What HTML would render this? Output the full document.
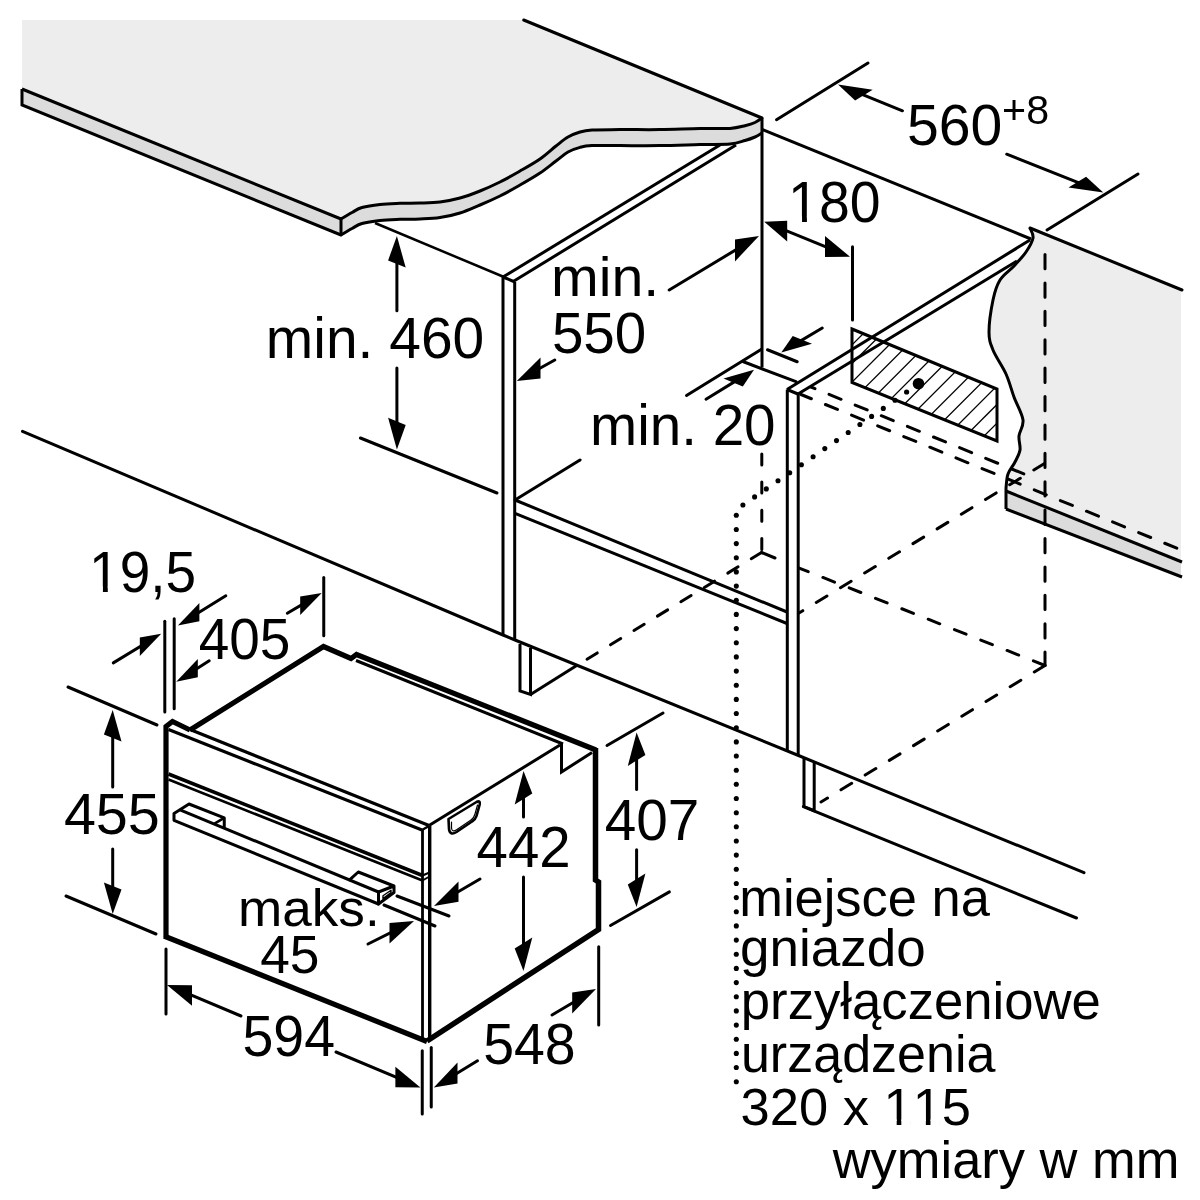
<!DOCTYPE html>
<html><head><meta charset="utf-8"><title>Wymiary</title>
<style>
html,body{margin:0;padding:0;background:#fff;}
svg{display:block;}
text{font-family:"Liberation Sans",sans-serif;fill:#000;stroke:none;font-kerning:none;}
</style></head><body>
<svg width="1200" height="1200" viewBox="0 0 1200 1200" stroke="#000" fill="none" stroke-linecap="butt" stroke-linejoin="miter">
<rect x="0" y="0" width="1200" height="1200" fill="#fff" stroke="none"/>
<path d="M22,20 L523,20 L762,118 L762,118 C760.8,118.8 757.8,121.2 755,122.5 C752.2,123.8 749.2,124.7 745,125.7 C740.8,126.7 737.5,127.9 730,128.4 C722.5,128.9 711.7,128.4 700,128.6 C688.3,128.8 673.3,129.4 660,129.6 C646.7,129.8 631.3,129.5 620,129.6 C608.7,129.7 598.7,129.6 592,130 C585.3,130.4 584.0,130.8 580,132 C576.0,133.2 572.0,134.7 568,137 C564.0,139.3 560.7,142.3 556,146 C551.3,149.7 546.0,154.8 540,159 C534.0,163.2 526.7,167.2 520,171 C513.3,174.8 506.7,178.7 500,182 C493.3,185.3 486.7,188.3 480,191 C473.3,193.7 466.7,196.2 460,198 C453.3,199.8 446.7,201.2 440,202 C433.3,202.8 426.7,202.8 420,203 C413.3,203.2 406.7,203.1 400,203.3 C393.3,203.6 386.3,203.8 380,204.5 C373.7,205.2 366.7,206.2 362,207.5 C357.3,208.8 355.5,210.6 352,212.5 C348.5,214.4 342.8,217.9 341,219 L22,89 Z" fill="#ededed" stroke-width="0" stroke="none"/>
<path d="M22,89 L341,219 L341,219 C342.8,217.9 348.5,214.4 352,212.5 C355.5,210.6 357.3,208.8 362,207.5 C366.7,206.2 373.7,205.2 380,204.5 C386.3,203.8 393.3,203.6 400,203.3 C406.7,203.1 413.3,203.2 420,203 C426.7,202.8 433.3,202.8 440,202 C446.7,201.2 453.3,199.8 460,198 C466.7,196.2 473.3,193.7 480,191 C486.7,188.3 493.3,185.3 500,182 C506.7,178.7 513.3,174.8 520,171 C526.7,167.2 534.0,163.2 540,159 C546.0,154.8 551.3,149.7 556,146 C560.7,142.3 564.0,139.3 568,137 C572.0,134.7 576.0,133.2 580,132 C584.0,130.8 585.3,130.4 592,130 C598.7,129.6 608.7,129.7 620,129.6 C631.3,129.5 646.7,129.8 660,129.6 C673.3,129.4 688.3,128.8 700,128.6 C711.7,128.4 722.5,128.9 730,128.4 C737.5,127.9 740.8,126.7 745,125.7 C749.2,124.7 752.2,123.8 755,122.5 C757.8,121.2 760.8,118.8 762,118 L762,133 L762,133 C760.8,133.7 757.8,135.8 755,137 C752.2,138.2 749.2,139.3 745,140.5 C740.8,141.7 737.5,143.3 730,144 C722.5,144.7 711.7,144.2 700,144.5 C688.3,144.8 673.3,145.4 660,145.6 C646.7,145.8 631.3,145.6 620,145.6 C608.7,145.6 598.7,145.3 592,145.6 C585.3,145.9 584.0,146.3 580,147.4 C576.0,148.5 572.0,149.7 568,152 C564.0,154.3 560.7,157.5 556,161 C551.3,164.5 546.0,169.0 540,173 C534.0,177.0 526.7,181.2 520,185 C513.3,188.8 506.7,192.7 500,196 C493.3,199.3 486.7,202.2 480,205 C473.3,207.8 466.7,210.9 460,213 C453.3,215.1 446.7,216.6 440,217.6 C433.3,218.6 426.7,218.7 420,219 C413.3,219.3 406.7,219.1 400,219.3 C393.3,219.6 386.3,219.8 380,220.5 C373.7,221.2 366.7,222.2 362,223.5 C357.3,224.8 355.5,226.6 352,228.5 C348.5,230.4 342.8,233.9 341,235 L22,105 Z" fill="#dcdcdc" stroke-width="0" stroke="none"/>
<path d="M22,89 L341,219 L341,219 C342.8,217.9 348.5,214.4 352,212.5 C355.5,210.6 357.3,208.8 362,207.5 C366.7,206.2 373.7,205.2 380,204.5 C386.3,203.8 393.3,203.6 400,203.3 C406.7,203.1 413.3,203.2 420,203 C426.7,202.8 433.3,202.8 440,202 C446.7,201.2 453.3,199.8 460,198 C466.7,196.2 473.3,193.7 480,191 C486.7,188.3 493.3,185.3 500,182 C506.7,178.7 513.3,174.8 520,171 C526.7,167.2 534.0,163.2 540,159 C546.0,154.8 551.3,149.7 556,146 C560.7,142.3 564.0,139.3 568,137 C572.0,134.7 576.0,133.2 580,132 C584.0,130.8 585.3,130.4 592,130 C598.7,129.6 608.7,129.7 620,129.6 C631.3,129.5 646.7,129.8 660,129.6 C673.3,129.4 688.3,128.8 700,128.6 C711.7,128.4 722.5,128.9 730,128.4 C737.5,127.9 740.8,126.7 745,125.7 C749.2,124.7 752.2,123.8 755,122.5 C757.8,121.2 760.8,118.8 762,118" fill="none" stroke-width="3.0" />
<path d="M22,89 L22,105 L341,235 L341,235 C342.8,233.9 348.5,230.4 352,228.5 C355.5,226.6 357.3,224.8 362,223.5 C366.7,222.2 373.7,221.2 380,220.5 C386.3,219.8 393.3,219.6 400,219.3 C406.7,219.1 413.3,219.3 420,219 C426.7,218.7 433.3,218.6 440,217.6 C446.7,216.6 453.3,215.1 460,213 C466.7,210.9 473.3,207.8 480,205 C486.7,202.2 493.3,199.3 500,196 C506.7,192.7 513.3,188.8 520,185 C526.7,181.2 534.0,177.0 540,173 C546.0,169.0 551.3,164.5 556,161 C560.7,157.5 564.0,154.3 568,152 C572.0,149.7 576.0,148.5 580,147.4 C584.0,146.3 585.3,145.9 592,145.6 C598.7,145.3 608.7,145.6 620,145.6 C631.3,145.6 646.7,145.8 660,145.6 C673.3,145.4 688.3,144.8 700,144.5 C711.7,144.2 722.5,144.7 730,144 C737.5,143.3 740.8,141.7 745,140.5 C749.2,139.3 752.2,138.2 755,137 C757.8,135.8 760.8,133.7 762,133" fill="none" stroke-width="3.0" />
<line x1="341" y1="219" x2="341" y2="235" stroke-width="3.0" />
<line x1="523.7" y1="20" x2="762" y2="118" stroke-width="3.0" stroke-linecap="round"/>
<line x1="375" y1="223" x2="504" y2="277" stroke-width="2.5" />
<line x1="503" y1="277" x2="503" y2="636" stroke-width="3.0" />
<line x1="514.7" y1="282" x2="514.7" y2="640" stroke-width="3.0" />
<line x1="503" y1="277" x2="515" y2="282" stroke-width="3.0" />
<line x1="503" y1="277" x2="720" y2="145" stroke-width="3.0" />
<line x1="514" y1="281" x2="736" y2="145" stroke-width="3.0" />
<line x1="762" y1="118" x2="762" y2="367.5" stroke-width="3.0" />
<line x1="762" y1="129.5" x2="1031" y2="239" stroke-width="3.0" />
<line x1="787.3" y1="389.5" x2="787.3" y2="752" stroke-width="3.0" />
<line x1="798.2" y1="394" x2="798.2" y2="756" stroke-width="3.0" />
<line x1="787" y1="389.5" x2="798" y2="394" stroke-width="3.0" />
<line x1="787" y1="389.5" x2="1030" y2="240" stroke-width="3.0" />
<line x1="798" y1="394" x2="1017" y2="261" stroke-width="3.0" />
<line x1="515" y1="500" x2="787" y2="612" stroke-width="3.0" />
<line x1="515" y1="513.3" x2="787" y2="623.5" stroke-width="3.0" />
<line x1="515" y1="500" x2="580" y2="460" stroke-width="3.0" stroke-linecap="round"/>
<line x1="686.5" y1="395.5" x2="761.5" y2="349.3" stroke-width="3.0" stroke-linecap="round"/>
<line x1="743.5" y1="361.75" x2="796" y2="381.7" stroke-width="3.0" stroke-linecap="round"/>
<line x1="767.5" y1="349.75" x2="797.2" y2="361.75" stroke-width="3.0" stroke-linecap="round"/>
<polygon points="781.3,352.4 792.7,335.9 812.0,343.8" fill="#000" stroke="none"/>
<line x1="822.25" y1="328" x2="791.8" y2="346.1" stroke-width="3.0" stroke-linecap="round"/>
<polygon points="754.0,369.7 723.5,378.6 742.8,386.5" fill="#000" stroke="none"/>
<line x1="706" y1="399.25" x2="743.6" y2="376.1" stroke-width="3.0" stroke-linecap="round"/>
<polyline points="22.5,431.3 503,635 515,640 798.5,755.5 1084,872.6" fill="none" stroke-width="3.0" stroke-linecap="round" stroke-linejoin="round"/>
<line x1="803.4" y1="806.6" x2="1076.5" y2="918" stroke-width="3.0" stroke-linecap="round"/>
<polyline points="520,644 520,691 530.5,694.5 530.5,648" fill="none" stroke-width="3.0" />
<line x1="530.5" y1="694.5" x2="577.5" y2="665" stroke-width="3.0" />
<polyline points="804,758 804,806.6 814.2,810.75 814.2,763" fill="none" stroke-width="3.0" />
<path d="M1030,228 L1181,290 L1181,562 L1006,491 L1006,488 C1006.3,485.7 1006.5,478.3 1008,474 C1009.5,469.7 1013.0,466.0 1015,462 C1017.0,458.0 1019.3,454.3 1020,450 C1020.7,445.7 1018.5,441.0 1019,436 C1019.5,431.0 1023.8,426.5 1023,420 C1022.2,413.5 1016.8,404.7 1014,397 C1011.2,389.3 1009.5,381.8 1006,374 C1002.5,366.2 995.8,357.0 993,350 C990.2,343.0 989.0,340.3 989,332 C989.0,323.7 991.2,308.7 993,300 C994.8,291.3 996.5,285.7 1000,280 C1003.5,274.3 1009.7,270.7 1014,266 C1018.3,261.3 1022.8,256.7 1026,252 C1029.2,247.3 1032.3,242.0 1033,238 C1033.7,234.0 1030.5,229.7 1030,228 Z" fill="#ededed" stroke-width="0" stroke="none"/>
<polygon points="1006,491 1181,562 1181,577 1006,509" fill="#dcdcdc" stroke-width="0" stroke="none"/>
<line x1="1030" y1="228" x2="1182" y2="290" stroke-width="3.0" stroke-linecap="round"/>
<path d="M1030,228 C1030.5,229.7 1033.7,234.0 1033,238 C1032.3,242.0 1029.2,247.3 1026,252 C1022.8,256.7 1018.3,261.3 1014,266 C1009.7,270.7 1003.5,274.3 1000,280 C996.5,285.7 994.8,291.3 993,300 C991.2,308.7 989.0,323.7 989,332 C989.0,340.3 990.2,343.0 993,350 C995.8,357.0 1002.5,366.2 1006,374 C1009.5,381.8 1011.2,389.3 1014,397 C1016.8,404.7 1022.2,413.5 1023,420 C1023.8,426.5 1019.5,431.0 1019,436 C1018.5,441.0 1020.7,445.7 1020,450 C1019.3,454.3 1017.0,458.0 1015,462 C1013.0,466.0 1009.5,469.7 1008,474 C1006.5,478.3 1006.3,485.7 1006,488 L1006,509" fill="none" stroke-width="3.0" stroke-linejoin="round"/>
<line x1="1006" y1="491" x2="1182" y2="562" stroke-width="3.0" />
<line x1="1006" y1="509" x2="1182" y2="577" stroke-width="3.0" />
<defs><clipPath id="hc"><polygon points="852,329 997,389 997,441 852,382.5"/></clipPath></defs>
<g clip-path="url(#hc)"><line x1="559.5" y1="470" x2="729.5" y2="300" stroke-width="1.3"/><line x1="578.1" y1="470" x2="748.1" y2="300" stroke-width="1.3"/><line x1="596.7" y1="470" x2="766.7" y2="300" stroke-width="1.3"/><line x1="615.3" y1="470" x2="785.3" y2="300" stroke-width="1.3"/><line x1="633.9" y1="470" x2="803.9" y2="300" stroke-width="1.3"/><line x1="652.5" y1="470" x2="822.5" y2="300" stroke-width="1.3"/><line x1="671.1" y1="470" x2="841.1" y2="300" stroke-width="1.3"/><line x1="689.7" y1="470" x2="859.7" y2="300" stroke-width="1.3"/><line x1="708.3" y1="470" x2="878.3" y2="300" stroke-width="1.3"/><line x1="726.9" y1="470" x2="896.9" y2="300" stroke-width="1.3"/><line x1="745.5" y1="470" x2="915.5" y2="300" stroke-width="1.3"/><line x1="764.1" y1="470" x2="934.1" y2="300" stroke-width="1.3"/><line x1="782.7" y1="470" x2="952.7" y2="300" stroke-width="1.3"/><line x1="801.3" y1="470" x2="971.3" y2="300" stroke-width="1.3"/><line x1="819.9" y1="470" x2="989.9" y2="300" stroke-width="1.3"/><line x1="838.5" y1="470" x2="1008.5" y2="300" stroke-width="1.3"/><line x1="857.1" y1="470" x2="1027.1" y2="300" stroke-width="1.3"/><line x1="875.7" y1="470" x2="1045.7" y2="300" stroke-width="1.3"/><line x1="894.3" y1="470" x2="1064.3" y2="300" stroke-width="1.3"/><line x1="912.9" y1="470" x2="1082.9" y2="300" stroke-width="1.3"/><line x1="931.5" y1="470" x2="1101.5" y2="300" stroke-width="1.3"/><line x1="950.1" y1="470" x2="1120.1" y2="300" stroke-width="1.3"/><line x1="968.7" y1="470" x2="1138.7" y2="300" stroke-width="1.3"/><line x1="987.3" y1="470" x2="1157.3" y2="300" stroke-width="1.3"/><line x1="1005.9" y1="470" x2="1175.9" y2="300" stroke-width="1.3"/><line x1="1024.5" y1="470" x2="1194.5" y2="300" stroke-width="1.3"/></g>
<polygon points="852,329 997,389 997,441 852,382.5" fill="none" stroke-width="3.0" />
<circle cx="918.5" cy="383.7" r="5.8" fill="#000" stroke="none"/>
<circle cx="906.6" cy="392" r="2.6" fill="#000" stroke="none"/>
<line x1="811" y1="387" x2="1027" y2="475.2" stroke-width="3.0" stroke-dasharray="13 15.2" stroke-dashoffset="8.7" stroke-linecap="round"/>
<line x1="801" y1="394.5" x2="1182" y2="550.3" stroke-width="3.0" stroke-dasharray="13 15.2" stroke-dashoffset="1.8" stroke-linecap="round"/>
<line x1="1045" y1="254.5" x2="1045" y2="665.5" stroke-width="3.0" stroke-dasharray="14.3 14.1" stroke-dashoffset="0" stroke-linecap="round"/>
<line x1="761.8" y1="453.9" x2="761.8" y2="552.5" stroke-width="3.0" stroke-dasharray="11 17.2" stroke-dashoffset="0" stroke-linecap="round"/>
<line x1="761.5" y1="552.5" x2="775" y2="558" stroke-width="3.0" stroke-linecap="round"/>
<line x1="1045" y1="665.5" x2="798.5" y2="567.8" stroke-width="3.0" stroke-dasharray="12.5 15.8" stroke-dashoffset="0" stroke-linecap="round"/>
<line x1="1044.5" y1="463.5" x2="798.5" y2="613.3" stroke-width="3.0" stroke-dasharray="12.5 15.8" stroke-dashoffset="0" stroke-linecap="round"/>
<line x1="1045" y1="665.5" x2="821" y2="802" stroke-width="3.0" stroke-dasharray="12.5 15.8" stroke-dashoffset="0" stroke-linecap="round"/>
<line x1="761.5" y1="552.5" x2="577.5" y2="665" stroke-width="3.0" stroke-dasharray="12 15.5" stroke-dashoffset="0" stroke-linecap="round"/>
<circle cx="895.0" cy="400.3" r="2.55" fill="#000" stroke="none"/>
<circle cx="883.3" cy="408.4" r="2.55" fill="#000" stroke="none"/>
<circle cx="871.6" cy="416.4" r="2.55" fill="#000" stroke="none"/>
<circle cx="859.9" cy="424.5" r="2.55" fill="#000" stroke="none"/>
<circle cx="848.2" cy="432.5" r="2.55" fill="#000" stroke="none"/>
<circle cx="836.5" cy="440.6" r="2.55" fill="#000" stroke="none"/>
<circle cx="824.8" cy="448.6" r="2.55" fill="#000" stroke="none"/>
<circle cx="813.1" cy="456.7" r="2.55" fill="#000" stroke="none"/>
<circle cx="801.4" cy="464.8" r="2.55" fill="#000" stroke="none"/>
<circle cx="789.7" cy="472.8" r="2.55" fill="#000" stroke="none"/>
<circle cx="778.0" cy="480.8" r="2.55" fill="#000" stroke="none"/>
<circle cx="766.3" cy="488.9" r="2.55" fill="#000" stroke="none"/>
<circle cx="754.6" cy="496.9" r="2.55" fill="#000" stroke="none"/>
<circle cx="742.9" cy="505.0" r="2.55" fill="#000" stroke="none"/>
<circle cx="736.3" cy="515.3" r="2.55" fill="#000" stroke="none"/>
<circle cx="736.3" cy="529.5" r="2.55" fill="#000" stroke="none"/>
<circle cx="736.3" cy="543.6" r="2.55" fill="#000" stroke="none"/>
<circle cx="736.3" cy="557.8" r="2.55" fill="#000" stroke="none"/>
<circle cx="736.3" cy="571.9" r="2.55" fill="#000" stroke="none"/>
<circle cx="736.3" cy="586.1" r="2.55" fill="#000" stroke="none"/>
<circle cx="736.3" cy="600.3" r="2.55" fill="#000" stroke="none"/>
<circle cx="736.3" cy="614.4" r="2.55" fill="#000" stroke="none"/>
<circle cx="736.3" cy="628.6" r="2.55" fill="#000" stroke="none"/>
<circle cx="736.3" cy="642.7" r="2.55" fill="#000" stroke="none"/>
<circle cx="736.3" cy="656.9" r="2.55" fill="#000" stroke="none"/>
<circle cx="736.3" cy="671.1" r="2.55" fill="#000" stroke="none"/>
<circle cx="736.3" cy="685.2" r="2.55" fill="#000" stroke="none"/>
<circle cx="736.3" cy="699.4" r="2.55" fill="#000" stroke="none"/>
<circle cx="736.3" cy="713.5" r="2.55" fill="#000" stroke="none"/>
<circle cx="736.3" cy="727.7" r="2.55" fill="#000" stroke="none"/>
<circle cx="736.3" cy="741.9" r="2.55" fill="#000" stroke="none"/>
<circle cx="736.3" cy="756.0" r="2.55" fill="#000" stroke="none"/>
<circle cx="736.3" cy="770.2" r="2.55" fill="#000" stroke="none"/>
<circle cx="736.3" cy="784.3" r="2.55" fill="#000" stroke="none"/>
<circle cx="736.3" cy="798.5" r="2.55" fill="#000" stroke="none"/>
<circle cx="736.3" cy="812.7" r="2.55" fill="#000" stroke="none"/>
<circle cx="736.3" cy="826.8" r="2.55" fill="#000" stroke="none"/>
<circle cx="736.3" cy="841.0" r="2.55" fill="#000" stroke="none"/>
<circle cx="736.3" cy="855.1" r="2.55" fill="#000" stroke="none"/>
<circle cx="736.3" cy="869.3" r="2.55" fill="#000" stroke="none"/>
<circle cx="736.3" cy="883.5" r="2.55" fill="#000" stroke="none"/>
<circle cx="736.3" cy="897.6" r="2.55" fill="#000" stroke="none"/>
<circle cx="736.3" cy="911.8" r="2.55" fill="#000" stroke="none"/>
<circle cx="736.3" cy="925.9" r="2.55" fill="#000" stroke="none"/>
<circle cx="736.3" cy="940.1" r="2.55" fill="#000" stroke="none"/>
<circle cx="736.3" cy="954.3" r="2.55" fill="#000" stroke="none"/>
<circle cx="736.3" cy="968.4" r="2.55" fill="#000" stroke="none"/>
<circle cx="736.3" cy="982.6" r="2.55" fill="#000" stroke="none"/>
<circle cx="736.3" cy="996.7" r="2.55" fill="#000" stroke="none"/>
<circle cx="736.3" cy="1010.9" r="2.55" fill="#000" stroke="none"/>
<circle cx="736.3" cy="1025.1" r="2.55" fill="#000" stroke="none"/>
<circle cx="736.3" cy="1039.2" r="2.55" fill="#000" stroke="none"/>
<circle cx="736.3" cy="1053.4" r="2.55" fill="#000" stroke="none"/>
<circle cx="736.3" cy="1067.5" r="2.55" fill="#000" stroke="none"/>
<circle cx="736.3" cy="1081.7" r="2.55" fill="#000" stroke="none"/>
<line x1="776.5" y1="119.7" x2="868" y2="63" stroke-width="3.0" stroke-linecap="round"/>
<line x1="1047" y1="230" x2="1138" y2="174" stroke-width="3.0" stroke-linecap="round"/>
<polygon points="838.0,84.5 855.1,100.4 872.7,89.7" fill="#000" stroke="none"/>
<line x1="902.5" y1="110.8" x2="851.0" y2="89.8" stroke-width="3.0" stroke-linecap="round"/>
<polygon points="1103.3,192.5 1068.5,187.5 1086.1,176.8" fill="#000" stroke="none"/>
<line x1="1006.7" y1="154.2" x2="1090.3" y2="187.3" stroke-width="3.0" stroke-linecap="round"/>
<line x1="852.5" y1="246.7" x2="852.5" y2="320" stroke-width="3.0" stroke-linecap="round"/>
<line x1="775" y1="226.1" x2="840" y2="252.6" stroke-width="3.0" />
<polygon points="764.2,221.7 787.2,220.7 787.2,241.5" fill="#000" stroke="none"/>
<polygon points="850.0,256.7 825.0,236.1 825.0,256.9" fill="#000" stroke="none"/>
<polygon points="516.8,381.0 540.5,357.4 540.5,378.4" fill="#000" stroke="none"/>
<line x1="554.8" y1="360" x2="528.6" y2="374.5" stroke-width="3.0" stroke-linecap="round"/>
<polygon points="759.0,235.9 735.0,239.4 735.0,261.4" fill="#000" stroke="none"/>
<line x1="669.2" y1="290" x2="747.0" y2="243.1" stroke-width="3.0" stroke-linecap="round"/>
<polygon points="396.9,236.0 388.1,260.4 405.7,267.6" fill="#000" stroke="none"/>
<line x1="396.9" y1="310.8" x2="396.9" y2="250.0" stroke-width="3.0" stroke-linecap="round"/>
<polygon points="396.9,449.4 388.1,417.8 405.7,425.0" fill="#000" stroke="none"/>
<line x1="396.9" y1="368" x2="396.9" y2="435.4" stroke-width="3.0" stroke-linecap="round"/>
<line x1="360.4" y1="438" x2="497" y2="493" stroke-width="3.0" stroke-linecap="round"/>
<polyline points="166,937 166,726.5 172.5,721.5 190,730" fill="none" stroke-width="5.2" stroke-linejoin="miter"/>
<line x1="164" y1="936" x2="427" y2="1041.5" stroke-width="5.2" />
<line x1="422.5" y1="830" x2="422.5" y2="1038" stroke-width="2.8" />
<line x1="429.7" y1="826" x2="429.7" y2="1040" stroke-width="3.4" />
<line x1="190" y1="729.5" x2="429" y2="825.5" stroke-width="3.2" />
<line x1="168.5" y1="729.5" x2="422" y2="830" stroke-width="3.2" />
<line x1="422" y1="830" x2="429" y2="826" stroke-width="2.4" />
<line x1="168.5" y1="774" x2="422.5" y2="875.5" stroke-width="3.5" />
<line x1="168.5" y1="779.5" x2="422.5" y2="880.5" stroke-width="2.6" />
<line x1="422.5" y1="875.5" x2="429.5" y2="872.5" stroke-width="2" />
<line x1="422.5" y1="880.5" x2="429.5" y2="876.5" stroke-width="2" />
<polyline points="190,730 323.5,646.5 351,658.5 356.5,654.5 596,750" fill="none" stroke-width="5.2" stroke-linejoin="miter"/>
<line x1="356" y1="660.5" x2="563" y2="744" stroke-width="3" />
<polyline points="595.5,748 595.5,880 598.5,882 598.5,929.5 427,1041" fill="none" stroke-width="5.5" stroke-linejoin="miter"/>
<line x1="429" y1="825.5" x2="560" y2="745" stroke-width="3" />
<polyline points="561.5,743.5 561.5,772 592,752.5" fill="none" stroke-width="3" />
<path d="M448.5,819 L476.5,802 Q480.5,800 479.7,804.5 L476.5,816 Q475.5,819.5 472,821.5 L456.5,832 Q450,836 449,829 Z" fill="none" stroke-width="2.6" stroke-linejoin="round" stroke-linecap="round"/>
<path d="M451.5,822 L451.5,828 Q452,833 457,829.5 L471,820 Q474,818 475,814 L477.5,805" fill="none" stroke-width="1.2" stroke-linejoin="round" stroke-linecap="round"/>
<path d="M378.5,904 L174,820.3 L174,813.4 L189,804 L224.25,817.9 L224.25,826.7" fill="none" stroke-width="3" stroke-linejoin="round" stroke-linecap="round"/>
<line x1="180" y1="809.8" x2="378.5" y2="892" stroke-width="3" />
<line x1="214.5" y1="823.7" x2="224.25" y2="817.9" stroke-width="2.6" />
<path d="M349.6,879.8 L358.25,872 L394,886 L394,892.5 L378.5,904 L378.5,892 L394,886" fill="none" stroke-width="3" stroke-linejoin="round" stroke-linecap="round"/>
<path d="M383,895.8 L391,890.2 L391,892.6 L383,898.6 Z" fill="none" stroke-width="1.4" stroke-linejoin="round" stroke-linecap="round"/>
<line x1="397" y1="896" x2="449" y2="916" stroke-width="3.0" stroke-linecap="round"/>
<line x1="384" y1="905" x2="435" y2="926" stroke-width="3.0" stroke-linecap="round"/>
<polygon points="434.0,906.0 458.5,881.4 458.5,901.8" fill="#000" stroke="none"/>
<line x1="480" y1="879" x2="446.2" y2="898.8" stroke-width="3.0" stroke-linecap="round"/>
<polygon points="414.0,921.0 389.5,923.0 389.5,943.5" fill="#000" stroke="none"/>
<line x1="368" y1="944" x2="401.8" y2="927.1" stroke-width="3.0" stroke-linecap="round"/>
<line x1="164.8" y1="621.25" x2="164.8" y2="711.9" stroke-width="3.0" stroke-linecap="round"/>
<line x1="174.2" y1="618.75" x2="174.2" y2="708.75" stroke-width="3.0" stroke-linecap="round"/>
<polygon points="177.9,625.4 199.4,602.9 199.4,621.3" fill="#000" stroke="none"/>
<line x1="225.8" y1="595.8" x2="188.7" y2="618.8" stroke-width="3.0" stroke-linecap="round"/>
<polygon points="161.2,633.8 139.8,637.6 139.8,656.0" fill="#000" stroke="none"/>
<line x1="113.3" y1="662.9" x2="150.5" y2="640.3" stroke-width="3.0" stroke-linecap="round"/>
<polygon points="176.2,681.7 197.8,658.9 197.8,677.3" fill="#000" stroke="none"/>
<line x1="209.2" y1="660.8" x2="187.0" y2="674.9" stroke-width="3.0" stroke-linecap="round"/>
<polygon points="321.7,593.1 300.2,596.5 300.2,614.9" fill="#000" stroke="none"/>
<line x1="287.3" y1="613.3" x2="310.9" y2="599.4" stroke-width="3.0" stroke-linecap="round"/>
<line x1="323.75" y1="577.5" x2="323.75" y2="635.8" stroke-width="3.0" stroke-linecap="round"/>
<line x1="68" y1="687" x2="157" y2="725" stroke-width="3.0" stroke-linecap="round"/>
<line x1="66" y1="896" x2="156" y2="934" stroke-width="3.0" stroke-linecap="round"/>
<polygon points="112.7,710.0 103.9,734.4 121.5,741.6" fill="#000" stroke="none"/>
<line x1="112.7" y1="787" x2="112.7" y2="724.0" stroke-width="3.0" stroke-linecap="round"/>
<polygon points="112.7,914.0 103.9,882.4 121.5,889.6" fill="#000" stroke="none"/>
<line x1="112.7" y1="849" x2="112.7" y2="900.0" stroke-width="3.0" stroke-linecap="round"/>
<polygon points="523.5,771.0 514.7,804.4 532.3,793.6" fill="#000" stroke="none"/>
<line x1="523.5" y1="817" x2="523.5" y2="785.0" stroke-width="3.0" stroke-linecap="round"/>
<polygon points="523.5,971.0 514.7,948.4 532.3,937.6" fill="#000" stroke="none"/>
<line x1="523.5" y1="876.9" x2="523.5" y2="957.0" stroke-width="3.0" stroke-linecap="round"/>
<line x1="607" y1="745.5" x2="663" y2="713" stroke-width="3.0" stroke-linecap="round"/>
<line x1="610.5" y1="925.5" x2="669.4" y2="891.9" stroke-width="3.0" stroke-linecap="round"/>
<polygon points="636.6,732.5 627.8,765.9 645.4,755.1" fill="#000" stroke="none"/>
<line x1="636.6" y1="789.4" x2="636.6" y2="746.5" stroke-width="3.0" stroke-linecap="round"/>
<polygon points="636.6,907.0 627.8,884.4 645.4,873.6" fill="#000" stroke="none"/>
<line x1="636.6" y1="849.8" x2="636.6" y2="893.0" stroke-width="3.0" stroke-linecap="round"/>
<line x1="166" y1="949" x2="166" y2="1014" stroke-width="3.0" stroke-linecap="round"/>
<polygon points="167.0,985.0 192.0,985.3 192.0,1005.7" fill="#000" stroke="none"/>
<line x1="241" y1="1016" x2="179.5" y2="990.2" stroke-width="3.0" stroke-linecap="round"/>
<polygon points="420.4,1087.5 395.4,1066.8 395.4,1087.2" fill="#000" stroke="none"/>
<line x1="336" y1="1052" x2="407.9" y2="1082.2" stroke-width="3.0" stroke-linecap="round"/>
<line x1="422.25" y1="1050.8" x2="422.25" y2="1114" stroke-width="3.0" stroke-linecap="round"/>
<line x1="431.25" y1="1047.5" x2="431.25" y2="1107" stroke-width="3.0" stroke-linecap="round"/>
<polygon points="433.8,1087.5 457.5,1062.6 457.5,1083.4" fill="#000" stroke="none"/>
<line x1="477.5" y1="1060.8" x2="445.6" y2="1080.3" stroke-width="3.0" stroke-linecap="round"/>
<polygon points="596.0,989.0 572.2,992.6 572.2,1013.4" fill="#000" stroke="none"/>
<line x1="552" y1="1015" x2="584.1" y2="996.0" stroke-width="3.0" stroke-linecap="round"/>
<line x1="598.7" y1="946.7" x2="598.7" y2="1025" stroke-width="3.0" stroke-linecap="round"/>
<text x="906.9" y="145.2" font-size="57" text-anchor="start" textLength="95.3" lengthAdjust="spacingAndGlyphs" >560</text>
<defs><filter id="gf" x="-10%" y="-10%" width="120%" height="120%"><feOffset dx="0" dy="0"/></filter></defs>
<g filter="url(#gf)"><text x="1002.1" y="123.8" font-size="40" textLength="47.0" lengthAdjust="spacingAndGlyphs">+8</text></g>
<text x="788.1" y="221.9" font-size="57" text-anchor="start" textLength="92.4" lengthAdjust="spacingAndGlyphs" >180</text>
<rect x="791.62" y="216.34" width="10.41" height="6.66" fill="#fff" stroke="none"/>
<rect x="806.92" y="216.34" width="9.98" height="6.66" fill="#fff" stroke="none"/>
<text x="551.0" y="295.8" font-size="56" text-anchor="start" textLength="108.3" lengthAdjust="spacingAndGlyphs" >min.</text>
<text x="551.9" y="352.7" font-size="57" text-anchor="start" textLength="94.4" lengthAdjust="spacingAndGlyphs" >550</text>
<text x="265.8" y="358.2" font-size="56.5" text-anchor="start" textLength="218.5" lengthAdjust="spacingAndGlyphs" >min. 460</text>
<text x="590.0" y="444.5" font-size="56.5" text-anchor="start" textLength="185.6" lengthAdjust="spacingAndGlyphs" >min. 20</text>
<text x="89.1" y="592.1" font-size="57" text-anchor="start" textLength="106.9" lengthAdjust="spacingAndGlyphs" >19,5</text>
<rect x="92.59" y="586.54" width="10.33" height="6.66" fill="#fff" stroke="none"/>
<rect x="107.77" y="586.54" width="9.90" height="6.66" fill="#fff" stroke="none"/>
<text x="198.7" y="659.2" font-size="57" text-anchor="start" textLength="91.7" lengthAdjust="spacingAndGlyphs" >405</text>
<text x="476.6" y="867.1" font-size="57" text-anchor="start" textLength="94.1" lengthAdjust="spacingAndGlyphs" >442</text>
<text x="604.7" y="840.2" font-size="57" text-anchor="start" textLength="94.6" lengthAdjust="spacingAndGlyphs" >407</text>
<text x="242.5" y="1055.9" font-size="57" text-anchor="start" textLength="92.5" lengthAdjust="spacingAndGlyphs" >594</text>
<text x="483.2" y="1063.8" font-size="57" text-anchor="start" textLength="92.5" lengthAdjust="spacingAndGlyphs" >548</text>
<text x="63.9" y="833.7" font-size="57" text-anchor="start" textLength="95.9" lengthAdjust="spacingAndGlyphs" >455</text>
<text x="238.0" y="926.3" font-size="52" text-anchor="start" textLength="141.7" lengthAdjust="spacingAndGlyphs" >maks.</text>
<text x="260.2" y="973.2" font-size="53.5" text-anchor="start" textLength="59.3" lengthAdjust="spacingAndGlyphs" >45</text>
<text x="739.2" y="916.2" font-size="51" text-anchor="start" textLength="250.7" lengthAdjust="spacingAndGlyphs" >miejsce na</text>
<text x="739.9" y="966.2" font-size="51" text-anchor="start" textLength="185.8" lengthAdjust="spacingAndGlyphs" >gniazdo</text>
<text x="740.8" y="1019.3" font-size="51" text-anchor="start" textLength="360.1" lengthAdjust="spacingAndGlyphs" >przyłączeniowe</text>
<text x="740.9" y="1071.6" font-size="51" text-anchor="start" textLength="254.6" lengthAdjust="spacingAndGlyphs" >urządzenia</text>
<text x="740.6" y="1124.7" font-size="52.5" text-anchor="start" textLength="230.4" lengthAdjust="spacingAndGlyphs" >320 x 115</text>
<rect x="886.82" y="1119.48" width="9.86" height="6.32" fill="#fff" stroke="none"/>
<rect x="901.31" y="1119.48" width="9.45" height="6.32" fill="#fff" stroke="none"/>
<rect x="915.99" y="1119.48" width="9.86" height="6.32" fill="#fff" stroke="none"/>
<rect x="930.48" y="1119.48" width="9.45" height="6.32" fill="#fff" stroke="none"/>
<text x="832.7" y="1177.7" font-size="51" text-anchor="start" textLength="346.8" lengthAdjust="spacingAndGlyphs" >wymiary w mm</text>
</svg>
</body></html>
